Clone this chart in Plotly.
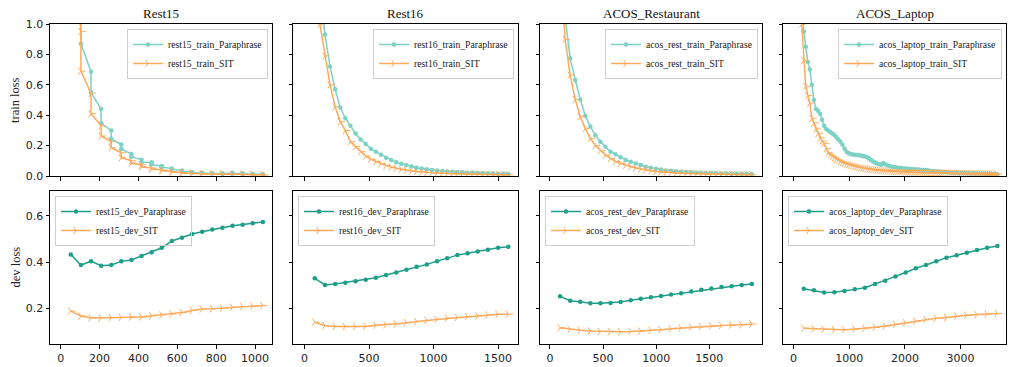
import plotly.graph_objects as go

# ---------------- data ----------------
titles = ["Rest15", "Rest16", "ACOS_Restaurant", "ACOS_Laptop"]

train_para_names = ["rest15_train_Paraphrase", "rest16_train_Paraphrase",
                    "acos_rest_train_Paraphrase", "acos_laptop_train_Paraphrase"]
train_sit_names = ["rest15_train_SIT", "rest16_train_SIT",
                   "acos_rest_train_SIT", "acos_laptop_train_SIT"]
dev_para_names = ["rest15_dev_Paraphrase", "rest16_dev_Paraphrase",
                  "acos_rest_dev_Paraphrase", "acos_laptop_dev_Paraphrase"]
dev_sit_names = ["rest15_dev_SIT", "rest16_dev_SIT",
                 "acos_rest_dev_SIT", "acos_laptop_dev_SIT"]

# Rest15 train (two logged values per step)
rest15_train_x = [52, 52, 104, 104, 156, 156, 208, 208, 260, 260, 312, 312, 364, 364,
                  416, 416, 468, 468, 520, 520, 572, 572, 624, 624, 676, 676, 728, 728,
                  780, 780, 832, 832, 884, 884, 936, 936, 988, 988, 1040, 1040]
rest15_train_para = [3.2, 2.1, 1.25, 0.87, 0.686, 0.55, 0.44, 0.347, 0.30, 0.245,
                     0.207, 0.178, 0.145, 0.127, 0.107, 0.088, 0.09, 0.075, 0.066, 0.058,
                     0.05, 0.045, 0.036, 0.031, 0.026, 0.023, 0.021, 0.019, 0.018, 0.016,
                     0.016, 0.014, 0.019, 0.015, 0.016, 0.013, 0.013, 0.011, 0.011, 0.009]
rest15_train_sit = [2.8, 1.8, 0.95, 0.69, 0.544, 0.41, 0.33, 0.263, 0.226, 0.186,
                    0.153, 0.12, 0.1, 0.085, 0.072, 0.06, 0.052, 0.046, 0.04, 0.035,
                    0.03, 0.026, 0.023, 0.02, 0.018, 0.016, 0.015, 0.013, 0.013, 0.012,
                    0.012, 0.011, 0.011, 0.01, 0.01, 0.009, 0.009, 0.008, 0.008, 0.007]

rest16_train_x = [39.5, 79, 118.5, 158, 197.5, 237, 276.5, 316, 355.5, 395, 434.5, 474,
                  513.5, 553, 592.5, 632, 671.5, 711, 750.5, 790, 829.5, 869, 908.5, 948,
                  987.5, 1027, 1066.5, 1106, 1145.5, 1185, 1224.5, 1264, 1303.5, 1343,
                  1382.5, 1422, 1461.5, 1501, 1540.5, 1580]
rest16_train_para = [3.0, 1.8, 1.2, 0.93, 0.72, 0.57, 0.45, 0.38, 0.33, 0.28, 0.24, 0.21,
                     0.18, 0.16, 0.14, 0.12, 0.105, 0.09, 0.08, 0.07, 0.062, 0.055, 0.05,
                     0.045, 0.04, 0.036, 0.033, 0.03, 0.028, 0.026, 0.024, 0.022, 0.021,
                     0.019, 0.018, 0.017, 0.016, 0.015, 0.014, 0.013]
rest16_train_sit = [2.5, 1.5, 1.0, 0.79, 0.6, 0.456, 0.357, 0.3, 0.226, 0.193, 0.16, 0.13,
                    0.11, 0.095, 0.08, 0.068, 0.058, 0.05, 0.044, 0.038, 0.033, 0.029,
                    0.026, 0.023, 0.021, 0.019, 0.017, 0.016, 0.015, 0.014, 0.013, 0.012,
                    0.011, 0.011, 0.01, 0.01, 0.009, 0.009, 0.008, 0.008]

acos_rest_train_x = [47.5, 95, 142.5, 190, 237.5, 285, 332.5, 380, 427.5, 475, 522.5, 570,
                     617.5, 665, 712.5, 760, 807.5, 855, 902.5, 950, 997.5, 1045, 1092.5,
                     1140, 1187.5, 1235, 1282.5, 1330, 1377.5, 1425, 1472.5, 1520, 1567.5,
                     1615, 1662.5, 1710, 1757.5, 1805, 1852.5, 1900]
acos_rest_train_para = [3.0, 1.8, 1.05, 0.774, 0.632, 0.504, 0.397, 0.325, 0.268, 0.226,
                        0.193, 0.16, 0.143, 0.123, 0.105, 0.094, 0.083, 0.072, 0.061, 0.055,
                        0.048, 0.042, 0.037, 0.034, 0.031, 0.028, 0.026, 0.024, 0.022, 0.021,
                        0.02, 0.019, 0.018, 0.017, 0.016, 0.015, 0.015, 0.014, 0.013, 0.013]
acos_rest_train_sit = [2.5, 1.4, 0.9, 0.664, 0.504, 0.39, 0.314, 0.248, 0.2, 0.167, 0.138,
                       0.116, 0.094, 0.083, 0.07, 0.06, 0.052, 0.045, 0.04, 0.035, 0.03,
                       0.027, 0.024, 0.022, 0.02, 0.018, 0.017, 0.016, 0.015, 0.014, 0.013,
                       0.012, 0.011, 0.011, 0.01, 0.01, 0.009, 0.009, 0.008, 0.008]

acos_laptop_train_x = [36.6, 73.2, 109.8, 146.4, 183, 219.6, 256.2, 292.8, 329.4, 366,
                       402.6, 439.2, 475.8, 512.4, 549, 585.6, 622.2, 658.8, 695.4, 732,
                       768.6, 805.2, 841.8, 878.4, 915, 951.6, 988.2, 1024.8, 1061.4, 1098,
                       1134.6, 1171.2, 1207.8, 1244.4, 1281, 1317.6, 1354.2, 1390.8, 1427.4, 1464,
                       1500.6, 1537.2, 1573.8, 1610.4, 1647, 1683.6, 1720.2, 1756.8, 1793.4, 1830,
                       1866.6, 1903.2, 1939.8, 1976.4, 2013, 2049.6, 2086.2, 2122.8, 2159.4, 2196,
                       2232.6, 2269.2, 2305.8, 2342.4, 2379, 2415.6, 2452.2, 2488.8, 2525.4, 2562,
                       2598.6, 2635.2, 2671.8, 2708.4, 2745, 2781.6, 2818.2, 2854.8, 2891.4, 2928,
                       2964.6, 3001.2, 3037.8, 3074.4, 3111, 3147.6, 3184.2, 3220.8, 3257.4, 3294,
                       3330.6, 3367.2, 3403.8, 3440.4, 3477, 3513.6, 3550.2, 3586.8, 3623.4, 3660]
acos_laptop_train_para = [4.0, 2.8, 1.9, 1.2, 0.95, 0.85, 0.75, 0.70, 0.60, 0.50,
                          0.44, 0.43, 0.41, 0.37, 0.33, 0.31, 0.30, 0.29, 0.28, 0.27,
                          0.255, 0.24, 0.225, 0.205, 0.18, 0.16, 0.15, 0.145, 0.142, 0.14,
                          0.138, 0.137, 0.135, 0.132, 0.128, 0.124, 0.115, 0.105, 0.095, 0.088,
                          0.083, 0.078, 0.074, 0.085, 0.078, 0.07, 0.066, 0.062, 0.06, 0.057,
                          0.055, 0.053, 0.052, 0.05, 0.049, 0.048, 0.046, 0.045, 0.044, 0.043,
                          0.042, 0.041, 0.04, 0.04, 0.039, 0.037, 0.035, 0.033, 0.031, 0.03,
                          0.029, 0.028, 0.027, 0.026, 0.025, 0.024, 0.023, 0.022, 0.022, 0.021,
                          0.02, 0.02, 0.019, 0.019, 0.018, 0.018, 0.017, 0.017, 0.016, 0.016,
                          0.015, 0.015, 0.015, 0.014, 0.014, 0.014, 0.013, 0.013, 0.013, 0.012]
acos_laptop_train_sit = [3.5, 2.0, 1.3, 1.0, 0.76, 0.59, 0.53, 0.48, 0.38, 0.35,
                         0.31, 0.28, 0.25, 0.23, 0.215, 0.18, 0.153, 0.14, 0.13, 0.12,
                         0.11, 0.105, 0.095, 0.088, 0.083, 0.078, 0.074, 0.072, 0.068, 0.064,
                         0.061, 0.058, 0.055, 0.052, 0.05, 0.048, 0.046, 0.044, 0.042, 0.04,
                         0.039, 0.038, 0.037, 0.036, 0.035, 0.034, 0.033, 0.032, 0.031, 0.03,
                         0.029, 0.028, 0.028, 0.027, 0.026, 0.026, 0.025, 0.025, 0.024, 0.024,
                         0.023, 0.023, 0.022, 0.022, 0.022, 0.021, 0.021, 0.021, 0.02, 0.02,
                         0.02, 0.019, 0.019, 0.019, 0.018, 0.018, 0.018, 0.018, 0.017, 0.017,
                         0.017, 0.016, 0.016, 0.016, 0.016, 0.015, 0.015, 0.015, 0.015, 0.014,
                         0.014, 0.014, 0.014, 0.013, 0.013, 0.013, 0.013, 0.012, 0.012, 0.012]

# dev (one value per epoch)
rest15_dev_x = [52, 104, 156, 208, 260, 312, 364, 416, 468, 520, 572, 624, 676, 728,
                780, 832, 884, 936, 988, 1040]
rest15_dev_para = [0.433, 0.387, 0.403, 0.384, 0.387, 0.403, 0.409, 0.426, 0.442, 0.462,
                   0.491, 0.505, 0.521, 0.531, 0.541, 0.548, 0.557, 0.561, 0.568, 0.573]
rest15_dev_sit = [0.188, 0.167, 0.158, 0.159, 0.16, 0.161, 0.163, 0.163, 0.168, 0.172,
                  0.176, 0.182, 0.191, 0.197, 0.198, 0.201, 0.205, 0.208, 0.21, 0.212]

rest16_dev_x = [79, 158, 237, 316, 395, 474, 553, 632, 711, 790, 869, 948, 1027, 1106,
                1185, 1264, 1343, 1422, 1501, 1580]
rest16_dev_para = [0.330, 0.301, 0.305, 0.311, 0.317, 0.324, 0.332, 0.344, 0.355, 0.367,
                   0.38, 0.39, 0.404, 0.417, 0.43, 0.438, 0.446, 0.453, 0.462, 0.466]
rest16_dev_sit = [0.14, 0.125, 0.122, 0.121, 0.121, 0.122, 0.127, 0.129, 0.133, 0.138,
                  0.144, 0.148, 0.152, 0.157, 0.161, 0.164, 0.167, 0.171, 0.174, 0.175]

acos_rest_dev_x = [95, 190, 285, 380, 475, 570, 665, 760, 855, 950, 1045, 1140, 1235,
                   1330, 1425, 1520, 1615, 1710, 1805, 1900]
acos_rest_dev_para = [0.252, 0.233, 0.229, 0.222, 0.222, 0.223, 0.227, 0.235, 0.241, 0.248,
                      0.253, 0.26, 0.265, 0.273, 0.28, 0.286, 0.292, 0.296, 0.301, 0.305]
acos_rest_dev_sit = [0.116, 0.109, 0.105, 0.102, 0.1, 0.099, 0.099, 0.1, 0.102, 0.105,
                     0.108, 0.112, 0.115, 0.119, 0.122, 0.125, 0.126, 0.128, 0.129, 0.132]

acos_laptop_dev_x = [183, 366, 549, 732, 915, 1098, 1281, 1464, 1647, 1830, 2013, 2196,
                     2379, 2562, 2745, 2928, 3111, 3294, 3477, 3660]
acos_laptop_dev_para = [0.285, 0.278, 0.269, 0.27, 0.275, 0.282, 0.289, 0.305, 0.319, 0.338,
                        0.355, 0.373, 0.387, 0.403, 0.419, 0.429, 0.44, 0.452, 0.462, 0.469]
acos_laptop_dev_sit = [0.114, 0.112, 0.109, 0.108, 0.108, 0.111, 0.114, 0.118, 0.124, 0.131,
                       0.138, 0.145, 0.151, 0.157, 0.161, 0.167, 0.17, 0.173, 0.176, 0.178]

train_x = [rest15_train_x, rest16_train_x, acos_rest_train_x, acos_laptop_train_x]
train_para = [rest15_train_para, rest16_train_para, acos_rest_train_para, acos_laptop_train_para]
train_sit = [rest15_train_sit, rest16_train_sit, acos_rest_train_sit, acos_laptop_train_sit]
dev_x = [rest15_dev_x, rest16_dev_x, acos_rest_dev_x, acos_laptop_dev_x]
dev_para = [rest15_dev_para, rest16_dev_para, acos_rest_dev_para, acos_laptop_dev_para]
dev_sit = [rest15_dev_sit, rest16_dev_sit, acos_rest_dev_sit, acos_laptop_dev_sit]

x_ranges = [[-55, 1087], [-90, 1655], [-94, 1996], [-190, 3815]]
x_ticks = [[0, 200, 400, 600, 800, 1000], [0, 500, 1000, 1500], [0, 500, 1000, 1500],
           [0, 1000, 2000, 3000]]
train_y_range = [0, 1.0]
train_y_ticks = [0.0, 0.2, 0.4, 0.6, 0.8, 1.0]
dev_y_range = [0.046, 0.707]
dev_y_ticks = [0.2, 0.4, 0.6]

# ---------------- style ----------------
TEAL_LIGHT = "#7CD2C5"
TEAL_DARK = "#1E9E88"
ORANGE = "#FDAA5C"
SERIF = "Liberation Serif, Times New Roman, Times, serif"
SANS = "DejaVu Sans, sans-serif"

W, H = 1009, 367
ML, MR, MT, MB = 50, 3, 24, 23
PW, PH = W - ML - MR, H - MT - MB


def fx(px):
    return (px - ML) / PW


def fy(py):
    return (H - MB - py) / PH


col_px = [(50, 272), (293, 518), (540, 762), (783, 1006)]
top_px = (24, 176)
bot_px = (191, 344)

fig = go.Figure()
layout = dict(
    width=W, height=H,
    margin=dict(l=ML, r=MR, t=MT, b=MB),
    paper_bgcolor="white", plot_bgcolor="white",
    showlegend=True,
)

axis_common = dict(showline=True, mirror=True, linecolor="black", linewidth=1,
                   ticks="outside", ticklen=3.5, tickwidth=1, tickcolor="black",
                   showgrid=False, zeroline=False,
                   tickfont=dict(family=SANS, size=11, color="#222"))

annotations = []
for c in range(4):
    t_idx = c + 1
    b_idx = c + 5
    xs = "" if t_idx == 1 else str(t_idx)
    xb = str(b_idx)
    dom_x = [fx(col_px[c][0]), fx(col_px[c][1])]
    layout["xaxis" + xs] = dict(axis_common, domain=dom_x, anchor="y" + xs,
                                range=x_ranges[c], tickvals=x_ticks[c],
                                showticklabels=False)
    layout["yaxis" + xs] = dict(axis_common, domain=[fy(top_px[1]), fy(top_px[0])],
                                anchor="x" + xs, range=train_y_range,
                                tickvals=train_y_ticks, tickformat=".1f",
                                showticklabels=(c == 0))
    layout["xaxis" + xb] = dict(axis_common, domain=dom_x, anchor="y" + xb,
                                range=x_ranges[c], tickvals=x_ticks[c])
    layout["yaxis" + xb] = dict(axis_common, domain=[fy(bot_px[1]), fy(bot_px[0])],
                                anchor="x" + xb, range=dev_y_range,
                                tickvals=dev_y_ticks, tickformat=".1f",
                                showticklabels=(c == 0))

    leg_t = "legend" if t_idx == 1 else "legend" + str(t_idx)
    leg_b = "legend" + str(b_idx)
    leg_common = dict(bordercolor="#cfcfcf",
                      borderwidth=1, font=dict(family=SERIF, size=9.7, color="#222"),
                      itemwidth=30, tracegroupgap=0, yanchor="top")
    layout[leg_t] = dict(leg_common, x=fx(col_px[c][1] - 4), xanchor="right",
                         y=fy(top_px[0] + 5), bgcolor="rgba(255,255,255,0.8)")
    layout[leg_b] = dict(leg_common, x=fx(col_px[c][0] + 5), xanchor="left",
                         y=fy(bot_px[0] + 5), bgcolor="rgba(255,255,255,0)")

    fig.add_trace(go.Scatter(x=train_x[c], y=train_para[c], name=train_para_names[c],
                             mode="lines+markers", xaxis="x" + xs, yaxis="y" + xs,
                             line=dict(color=TEAL_LIGHT, width=1.5),
                             marker=dict(symbol="circle", size=4.5, color=TEAL_LIGHT),
                             legend=leg_t))
    fig.add_trace(go.Scatter(x=train_x[c], y=train_sit[c], name=train_sit_names[c],
                             mode="lines+markers", xaxis="x" + xs, yaxis="y" + xs,
                             line=dict(color=ORANGE, width=1.5),
                             marker=dict(symbol="y-right", size=6, color=ORANGE,
                                         line=dict(color=ORANGE, width=1)),
                             legend=leg_t))
    fig.add_trace(go.Scatter(x=dev_x[c], y=dev_para[c], name=dev_para_names[c],
                             mode="lines+markers", xaxis="x" + xb, yaxis="y" + xb,
                             line=dict(color=TEAL_DARK, width=1.5),
                             marker=dict(symbol="circle", size=4.5, color=TEAL_DARK),
                             legend=leg_b))
    fig.add_trace(go.Scatter(x=dev_x[c], y=dev_sit[c], name=dev_sit_names[c],
                             mode="lines+markers", xaxis="x" + xb, yaxis="y" + xb,
                             line=dict(color=ORANGE, width=1.5),
                             marker=dict(symbol="y-right", size=6, color=ORANGE,
                                         line=dict(color=ORANGE, width=1)),
                             legend=leg_b))

    annotations.append(dict(text=titles[c], xref="paper", yref="paper",
                            x=fx((col_px[c][0] + col_px[c][1]) / 2), y=fy(13.5),
                            xanchor="center", yanchor="middle", showarrow=False,
                            font=dict(family=SERIF, size=13, color="#111")))

annotations.append(dict(text="train loss", xref="paper", yref="paper",
                        x=fx(15), y=fy((top_px[0] + top_px[1]) / 2), textangle=-90,
                        xanchor="center", yanchor="middle", showarrow=False,
                        font=dict(family=SERIF, size=12.5, color="#222")))
annotations.append(dict(text="dev loss", xref="paper", yref="paper",
                        x=fx(15), y=fy((bot_px[0] + bot_px[1]) / 2), textangle=-90,
                        xanchor="center", yanchor="middle", showarrow=False,
                        font=dict(family=SERIF, size=12.5, color="#222")))
layout["annotations"] = annotations

fig.update_layout(**layout)
fig.write_html("out.html", config={"displayModeBar": False},
               post_script="document.body.style.margin='0';document.body.style.overflow='hidden';")
